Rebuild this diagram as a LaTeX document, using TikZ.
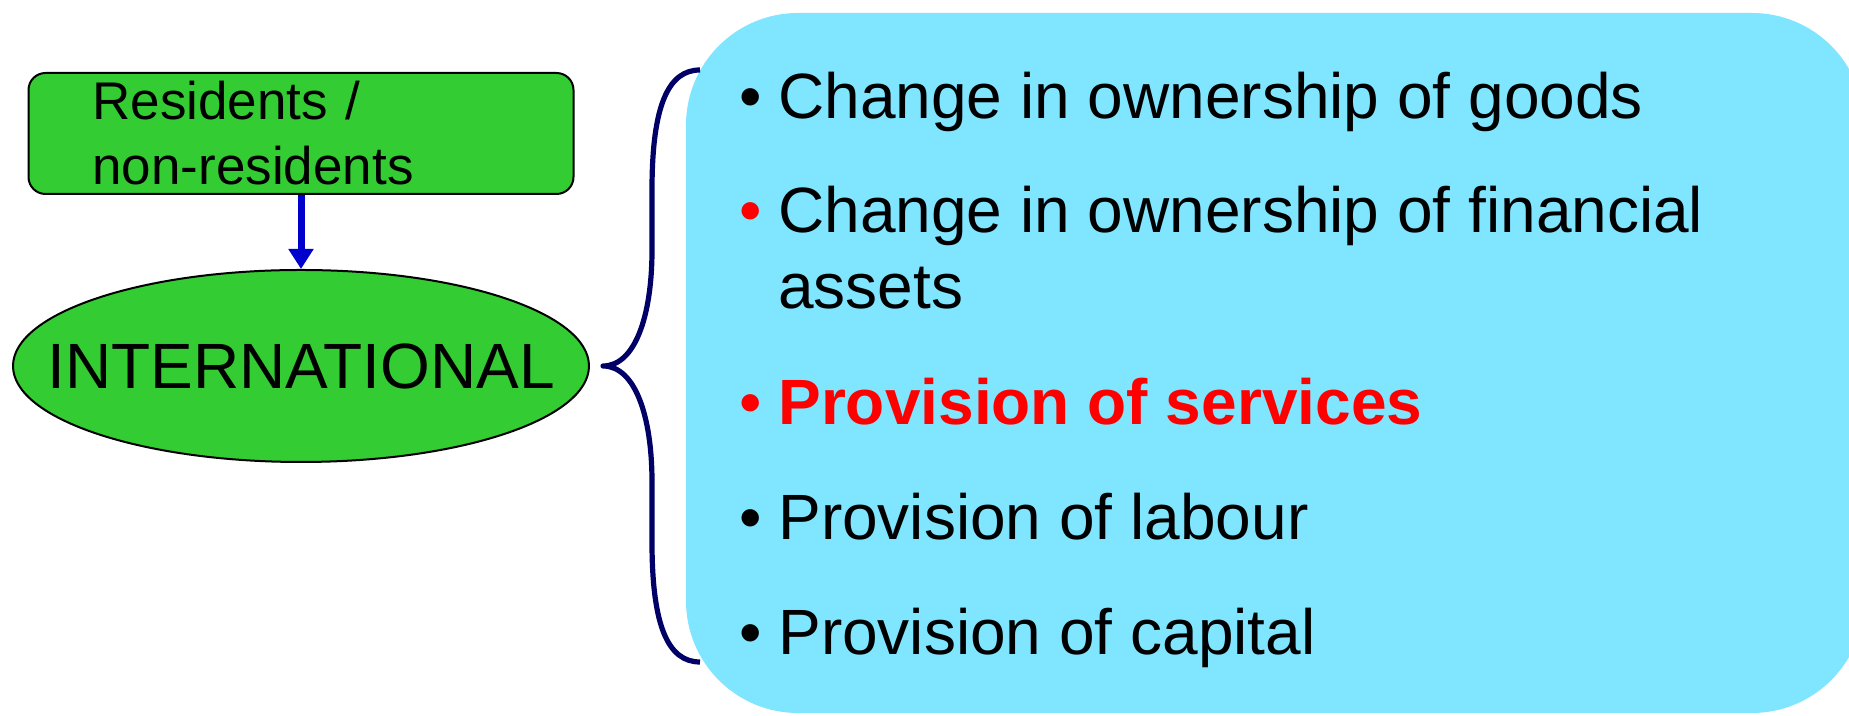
\documentclass[tikz,border=0pt]{standalone}
\usepackage{fontspec}
\setmainfont{Liberation Sans}
\usetikzlibrary{arrows.meta,shapes.geometric,positioning}

\definecolor{boxgreen}{RGB}{51,204,51}
\definecolor{panelblue}{RGB}{128,229,255}
\definecolor{arrowblue}{RGB}{0,0,204}
\definecolor{bracenavy}{RGB}{0,0,102}
\newcommand\itemdot[1]{\llap{\mdseries\textcolor{#1}{•}\hspace{8.4pt}}}

\begin{document}
\begin{tikzpicture}[x=0.5pt,y=0.5pt,
  greenbox/.style={draw=black,line width=1pt,fill=boxgreen},
  entry/.style={anchor=base west,inner sep=0pt,align=left,font=\fontsize{32}{38}\selectfont}]
\useasboundingbox (0,0) rectangle (1849,716);
\fill[panelblue,rounded corners=56pt] (686,3) rectangle (1864,703);
\node[greenbox,rounded corners=8.5pt,minimum height=60.5pt,text width=208.5pt,inner xsep=32pt,inner ysep=0pt,align=left,font=\fontsize{26.5}{32.5}\selectfont] (res) at (301,582.5) {Residents /\\non-residents};
\node[greenbox,ellipse,inner sep=0pt,minimum width=288pt,minimum height=96pt,label={[font=\fontsize{32}{38}\selectfont]center:INTERNATIONAL}] (intl) at (301,350) {};
\draw[arrowblue,line width=3.5pt,-{Triangle[width=12pt,length=10pt]}] (res) -- (intl);
\draw[bracenavy,line width=2.6pt,line join=round] (700,646) .. controls (668,646) and (652,610) .. (652,526) -- (652,466) .. controls (652,400) and (635,350) .. (603,350) .. controls (635,350) and (652,300) .. (652,234) -- (652,174) .. controls (652,90) and (668,54) .. (700,54);
\node[entry] (goods) at (778,597) {\itemdot{black}Change in ownership of goods};
\node[entry] (assets) at (778,407) {\itemdot{red}Change in ownership of financial\\assets};
\node[entry,text=red,font=\fontsize{32}{38}\selectfont\bfseries] (services) at (778,291) {\itemdot{red}Provision of services};
\node[entry] (labour) at (778,176) {\itemdot{black}Provision of labour};
\node[entry] (capital) at (778,61) {\itemdot{black}Provision of capital};
\end{tikzpicture}
\end{document}
